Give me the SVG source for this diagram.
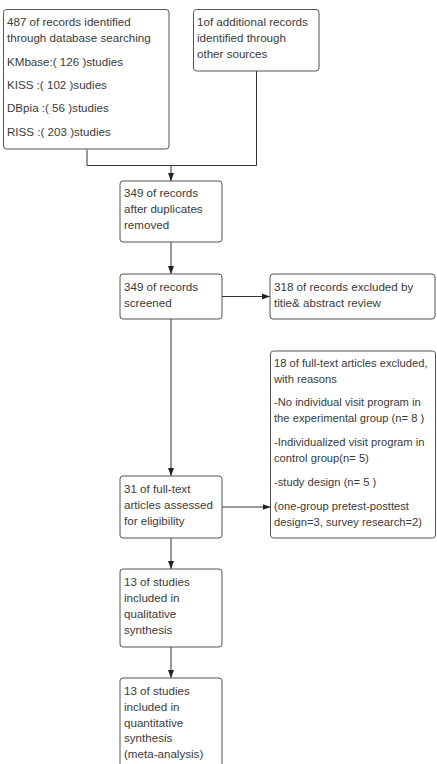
<svg xmlns="http://www.w3.org/2000/svg" width="437" height="764" viewBox="0 0 437 764">
<defs>
<style>
.box{fill:#fff;stroke:#555;stroke-width:1}
text{font-family:"Liberation Sans",Arial,sans-serif;font-size:11.6px;fill:#3a3a3a}
#n6 text{font-size:11.2px}
.c{fill:none;stroke:#333;stroke-width:1}
</style>
<marker id="ah" viewBox="0 0 8 8" refX="8" refY="4" markerWidth="8" markerHeight="8" markerUnits="userSpaceOnUse" orient="auto">
<path d="M0,1 L8,4 L0,7 Z" fill="#222"/>
</marker>
</defs>
<rect width="437" height="764" fill="#fff"/>
<g id="connectors">
<path class="c" d="M87,149.5 V165.5 H256.5 V71"/>
<path class="c" d="M171,165.5 V181" marker-end="url(#ah)"/>
<path class="c" d="M171,242 V274" marker-end="url(#ah)"/>
<path class="c" d="M222,296.5 H270" marker-end="url(#ah)"/>
<path class="c" d="M171,319 V476" marker-end="url(#ah)"/>
<path class="c" d="M222,507 H270.5" marker-end="url(#ah)"/>
<path class="c" d="M171,538 V569" marker-end="url(#ah)"/>
<path class="c" d="M171,647 V678" marker-end="url(#ah)"/>
</g>
<g id="n1">
<rect class="box" x="3.5" y="9.5" width="165.5" height="139.5" rx="3"/>
<text x="7" y="26">487 of records identified</text>
<text x="7" y="42">through database searching</text>
<text x="7" y="66">KMbase:( 126 )studies</text>
<text x="7" y="89">KISS :( 102 )sudies</text>
<text x="7" y="112">DBpia :( 56 )studies</text>
<text x="7" y="136">RISS :( 203 )studies</text>
</g>
<g id="n2">
<rect class="box" x="193.5" y="9.5" width="125.5" height="61.5" rx="3"/>
<text x="197" y="26">1of additional records</text>
<text x="197" y="42">identified through</text>
<text x="197" y="58">other sources</text>
</g>
<g id="n3">
<rect class="box" x="120" y="181" width="102" height="61" rx="3"/>
<text x="124" y="197">349 of records</text>
<text x="124" y="213">after duplicates</text>
<text x="124" y="229">removed</text>
</g>
<g id="n4">
<rect class="box" x="120" y="274" width="102" height="45" rx="3"/>
<text x="124" y="290.5">349 of records</text>
<text x="124" y="306.5">screened</text>
</g>
<g id="n5">
<rect class="box" x="270" y="274" width="165" height="45" rx="3"/>
<text x="274" y="290.5">318 of records excluded by</text>
<text x="274" y="306.5">titie&amp; abstract review</text>
</g>
<g id="n6">
<rect class="box" x="270.5" y="351" width="165" height="187" rx="3"/>
<text x="274" y="366.5">18 of full-text articles excluded,</text>
<text x="274" y="383.3">with reasons</text>
<text x="274" y="406.3">-No individual visit program in</text>
<text x="274" y="422.3">the experimental group (n= 8 )</text>
<text x="274" y="446.3">-Individualized visit program in</text>
<text x="274" y="462.3">control group(n= 5)</text>
<text x="274" y="485.7">-study design (n= 5 )</text>
<text x="274" y="509.5">(one-group pretest-posttest</text>
<text x="274" y="525.5">design=3, survey research=2)</text>
</g>
<g id="n7">
<rect class="box" x="120" y="476" width="102" height="62" rx="3"/>
<text x="124" y="493">31 of full-text</text>
<text x="124" y="509">articles assessed</text>
<text x="124" y="525">for eligibility</text>
</g>
<g id="n8">
<rect class="box" x="120" y="569" width="102" height="78" rx="3"/>
<text x="124" y="585.7">13 of studies</text>
<text x="124" y="601.7">included in</text>
<text x="124" y="617.7">qualitative</text>
<text x="124" y="633.7">synthesis</text>
</g>
<g id="n9">
<rect class="box" x="120" y="678" width="102" height="95" rx="3"/>
<text x="124" y="694.7">13 of studies</text>
<text x="124" y="710.7">included in</text>
<text x="124" y="726.7">quantitative</text>
<text x="124" y="742.3">synthesis</text>
<text x="124" y="758.3">(meta-analysis)</text>
</g>
</svg>
